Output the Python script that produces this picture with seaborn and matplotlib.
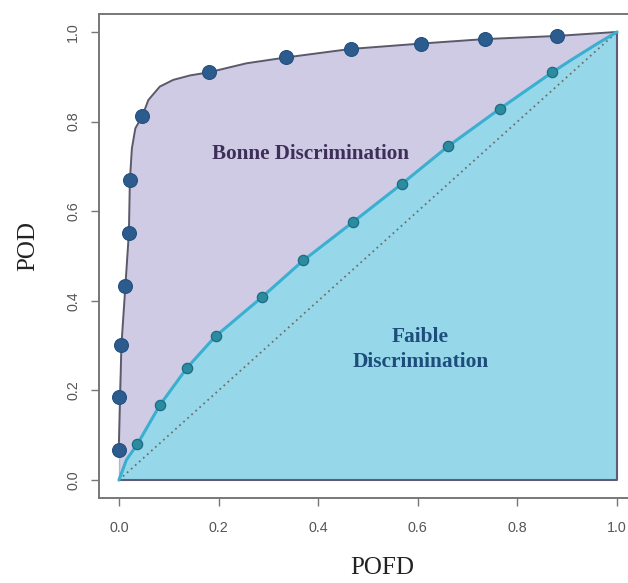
import matplotlib
matplotlib.use("Agg")
import matplotlib.pyplot as plt
import seaborn as sns
import pandas as pd

# ---- data ----
# markers on the "good" ROC curve
good_pofd = [0.0, 0.0, 0.005, 0.013, 0.020, 0.022, 0.047, 0.181, 0.335, 0.465, 0.606, 0.734, 0.879]
good_pod = [0.068, 0.185, 0.301, 0.434, 0.552, 0.669, 0.8125, 0.910, 0.943, 0.962, 0.974, 0.984, 0.991]
# traced line of the "good" curve
good_line_pofd = [0.0, 0.0, 0.0, 0.005, 0.013, 0.020, 0.022, 0.026, 0.033, 0.047, 0.059, 0.082,
                  0.109, 0.143, 0.181, 0.256, 0.335, 0.465, 0.606, 0.734, 0.879, 1.0]
good_line_pod = [0.0, 0.068, 0.185, 0.301, 0.434, 0.552, 0.669, 0.74, 0.785, 0.8125, 0.848, 0.878,
                 0.893, 0.903, 0.910, 0.930, 0.943, 0.962, 0.974, 0.984, 0.991, 1.0]

# markers on the "weak" ROC curve
weak_pofd = [0.037, 0.082, 0.137, 0.194, 0.287, 0.370, 0.469, 0.568, 0.661, 0.764, 0.870]
weak_pod = [0.080, 0.167, 0.251, 0.321, 0.408, 0.490, 0.575, 0.661, 0.745, 0.828, 0.910]
# traced line of the "weak" curve
weak_line_pofd = [0.0, 0.015, 0.037, 0.082, 0.137, 0.194, 0.287, 0.370, 0.469, 0.568, 0.661,
                  0.764, 0.870, 0.908, 0.962, 1.0]
weak_line_pod = [0.0, 0.045, 0.080, 0.167, 0.251, 0.321, 0.408, 0.490, 0.575, 0.661, 0.745,
                 0.828, 0.910, 0.9375, 0.975, 1.0]

# chance diagonal and region corners
diag = [0.0, 1.0]
corner_x = [1.0, 0.0]
corner_y = [0.0, 0.0]

ticks = [0.0, 0.2, 0.4, 0.6, 0.8, 1.0]
tick_labels = ["0.0", "0.2", "0.4", "0.6", "0.8", "1.0"]

label_good = "Bonne Discrimination"
label_weak = "Faible\nDiscrimination"
xlabel = "POFD"
ylabel = "POD"

# ---- styling ----
sns.set_theme(style="ticks")
plt.rcParams["font.family"] = ["Liberation Sans", "DejaVu Sans"]

PURPLE = "#CFCBE4"
CYAN = "#96D8E9"
GOOD_LINE = "#5A5A6A"
WEAK_LINE = "#3AAFCF"
GOOD_MK = "#2C5B8E"
WEAK_MK = "#2A8C9E"
FRAME = "#777777"

fig = plt.figure(figsize=(6.28, 5.83), dpi=100)
ax = fig.add_axes([99 / 628, 85 / 583, 538 / 628, 484 / 583])
ax.set_facecolor("white")

# filled regions
ax.fill(good_line_pofd + corner_x, good_line_pod + corner_y, color=PURPLE, lw=0, zorder=1)
ax.fill(weak_line_pofd + corner_x, weak_line_pod + corner_y, color=CYAN, lw=0, zorder=2)

# outline of the region (bottom and right edges)
ax.plot([0.0, 1.0, 1.0], [0.0, 0.0, 1.0], color="#5E5A78", lw=1.5, zorder=3)

# chance diagonal
sns.lineplot(x=diag, y=diag, ax=ax, color="#6E6E6E", lw=1.3, linestyle=(0, (1, 2)),
             zorder=3, sort=False)

# curves
good_df = pd.DataFrame({"POFD": good_line_pofd, "POD": good_line_pod})
weak_df = pd.DataFrame({"POFD": weak_line_pofd, "POD": weak_line_pod})
sns.lineplot(data=good_df, x="POFD", y="POD", ax=ax, sort=False, color=GOOD_LINE, lw=1.4, zorder=4)
sns.lineplot(data=weak_df, x="POFD", y="POD", ax=ax, sort=False, color=WEAK_LINE, lw=2.2, zorder=4)

# markers
sns.scatterplot(x=good_pofd, y=good_pod, ax=ax, s=100, color=GOOD_MK, edgecolor="#24507F",
                linewidth=0.8, zorder=5)
sns.scatterplot(x=weak_pofd, y=weak_pod, ax=ax, s=55, color=WEAK_MK, edgecolor="#1C6C85",
                linewidth=0.9, zorder=5)

# annotations
ax.text(0.385, 0.728, label_good, ha="center", va="center", fontsize=15.2, fontweight="bold",
        color="#3E2F58", family=["Liberation Serif", "DejaVu Serif"], zorder=6)
ax.text(0.605, 0.292, label_weak, ha="center", va="center", fontsize=15.4, fontweight="bold",
        color="#1E4D7C", family=["Liberation Serif", "DejaVu Serif"], linespacing=1.35, zorder=6)

# axes
ax.set_xlim(-0.04, 1.04)
ax.set_ylim(-0.04, 1.04)
ax.set_xticks(ticks)
ax.set_xticklabels(tick_labels)
ax.set_yticks(ticks)
ax.set_yticklabels(tick_labels, rotation=90, va="center")
ax.tick_params(axis="both", length=5.5, width=1.0, color=FRAME, labelsize=10.3,
               labelcolor="#555555")
ax.tick_params(axis="x", pad=11)
ax.tick_params(axis="y", pad=8)
for sp in ax.spines.values():
    sp.set_color(FRAME)
    sp.set_linewidth(1.4)
    sp.set_visible(True)

ax.set_xlabel(xlabel, fontsize=18, family=["Liberation Serif", "DejaVu Serif"], color="#222222")
ax.set_ylabel(ylabel, fontsize=18, family=["Liberation Serif", "DejaVu Serif"], color="#222222")
ax.xaxis.set_label_coords((382 - 99) / 538, (498 - 568) / 484)
ax.xaxis.label.set_va("center")
ax.yaxis.set_label_coords((28 - 99) / 538, (498 - 246) / 484)
ax.yaxis.label.set_va("center")
ax.yaxis.label.set_ha("center")

fig.savefig("out.png", dpi=100)
